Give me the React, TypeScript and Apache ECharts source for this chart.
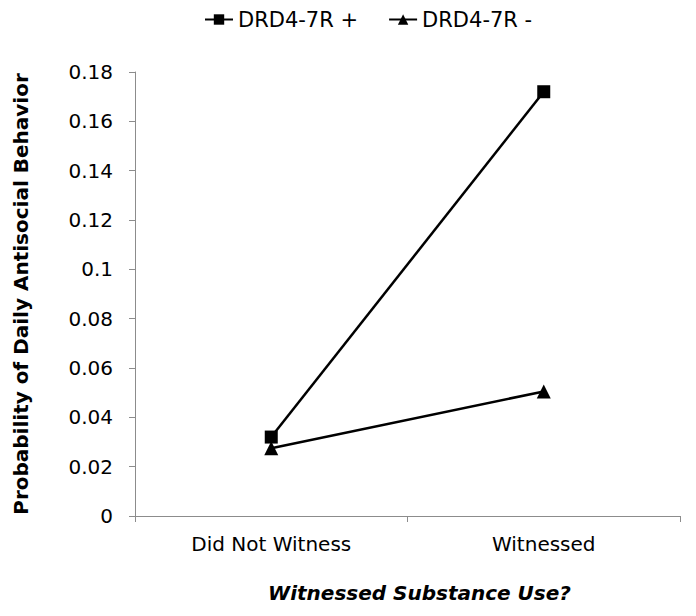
import React, { useEffect, useRef } from "react";
import * as echarts from "echarts";

const categories = ["Did Not Witness", "Witnessed"];
const seriesNames = ["DRD4-7R +", "DRD4-7R -"];
const positiveValues = [0.032, 0.172];
const negativeValues = [0.0275, 0.0505];
const yTicks = { min: 0, max: 0.18, interval: 0.02 };

export default function App() {
  const ref = useRef<HTMLDivElement>(null);
  useEffect(() => {
    if (!ref.current) return;
    const chart = echarts.init(ref.current, undefined, { renderer: "svg" });
    const font = "DejaVu Sans, sans-serif";
    chart.setOption({
      animation: false,
      backgroundColor: "#fff",
      textStyle: { fontFamily: font },
      legend: {
        top: 4,
        left: 199,
        itemGap: 30,
        itemWidth: 28,
        itemHeight: 13,
        textStyle: { fontSize: 21, color: "#000", fontFamily: font },
        data: seriesNames,
      },
      grid: { left: 135, right: 16, top: 72, bottom: 100, containLabel: false, outerBoundsMode: "none" },
      xAxis: {
        type: "category",
        data: categories,
        boundaryGap: true,
        axisLine: { lineStyle: { color: "#8c8c8c", width: 1 } },
        axisTick: { show: true, length: 6, lineStyle: { color: "#8c8c8c" } },
        axisLabel: { fontSize: 20, color: "#000", margin: 18, fontFamily: font },
        name: "Witnessed Substance Use?",
        nameLocation: "middle",
        nameGap: 67,
        nameTextStyle: {
          fontSize: 20,
          fontWeight: "bold",
          fontStyle: "italic",
          color: "#000",
          fontFamily: font,
          padding: [0, 0, 0, 24],
        },
      },
      yAxis: {
        type: "value",
        min: yTicks.min,
        max: yTicks.max,
        interval: yTicks.interval,
        axisLine: { show: true, lineStyle: { color: "#8c8c8c", width: 1 } },
        axisTick: { show: true, length: 6, lineStyle: { color: "#8c8c8c" } },
        splitLine: { show: false },
        axisLabel: {
          fontSize: 20,
          color: "#000",
          margin: 22,
          fontFamily: font,
          formatter: (v: number) => (v === 0 ? "0" : String(parseFloat(v.toFixed(2)))),
        },
        name: "Probability of Daily Antisocial Behavior",
        nameLocation: "middle",
        nameGap: 104,
        nameTextStyle: { fontSize: 20, fontWeight: "bold", color: "#000", fontFamily: font },
      },
      series: [
        {
          name: seriesNames[0],
          type: "line",
          data: positiveValues,
          symbol: "rect",
          symbolSize: 13,
          lineStyle: { color: "#000", width: 2.5 },
          itemStyle: { color: "#000" },
        },
        {
          name: seriesNames[1],
          type: "line",
          data: negativeValues,
          symbol: "triangle",
          symbolSize: 14,
          lineStyle: { color: "#000", width: 2.5 },
          itemStyle: { color: "#000" },
        },
      ],
    });
    return () => chart.dispose();
  }, []);
  return <div ref={ref} style={{ width: 696, height: 616, position: "absolute", left: 0, top: 0 }} />;
}
